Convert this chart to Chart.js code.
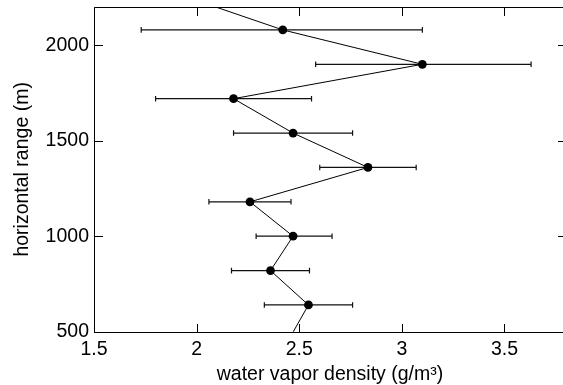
<!DOCTYPE html>
<html>
<head>
<meta charset="utf-8">
<script src="https://cdn.jsdelivr.net/npm/chart.js@4/dist/chart.umd.min.js"></script>
<style>
  html, body { margin: 0; padding: 0; background: #fff; overflow: hidden; }
  #wrap { width: 563px; height: 385px; }
</style>
</head>
<body>
<div id="wrap"><canvas id="c" width="563" height="385" style="width:563px;height:385px"></canvas></div>
<script>
// Data
const rangeM = [2260, 2080, 1900, 1720, 1540, 1360, 1180, 1000, 820, 640, 460];
const density = [1.93, 2.42, 3.10, 2.18, 2.47, 2.835, 2.26, 2.47, 2.36, 2.545, 2.45];
const densityLow = [null, 1.73, 2.58, 1.80, 2.18, 2.60, 2.06, 2.29, 2.17, 2.33, null];
const densityHigh = [null, 3.10, 3.63, 2.56, 2.76, 3.07, 2.46, 2.66, 2.55, 2.76, null];
const xTicks = [1.5, 2, 2.5, 3, 3.5];
const yTicks = [500, 1000, 1500, 2000];
const xTitle = 'water vapor density (g/m³)';
const yTitle = 'horizontal range (m)';

const FONT = "'Liberation Sans', Arial, Helvetica, sans-serif";
const PLOT_RIGHT = 566; // plot frame extends just past the right edge of the picture

const extendRight = {
  id: 'extendRight',
  afterLayout(chart) {
    try {
      const xs = chart.scales.x;
      xs.right = PLOT_RIGHT;
      xs.width = PLOT_RIGHT - xs.left;
      xs.configure();
      chart.chartArea.right = PLOT_RIGHT;
      chart.chartArea.width = PLOT_RIGHT - chart.chartArea.left;
      const ys = chart.scales.y;
      if (ys) { ys._labelItems = null; }
    } catch (e) { /* keep default layout */ }
  }
};

const errorBars = {
  id: 'errorBars',
  beforeDatasetsDraw(chart) {
    const ctx = chart.ctx, xs = chart.scales.x, ys = chart.scales.y;
    ctx.save();
    ctx.strokeStyle = '#111';
    ctx.lineWidth = 1.2;
    for (let i = 0; i < rangeM.length; i++) {
      if (densityLow[i] == null) continue;
      const y = ys.getPixelForValue(rangeM[i]);
      const x1 = xs.getPixelForValue(densityLow[i]);
      const x2 = xs.getPixelForValue(densityHigh[i]);
      ctx.beginPath();
      ctx.moveTo(x1, y); ctx.lineTo(x2, y);
      ctx.moveTo(x1, y - 2.8); ctx.lineTo(x1, y + 2.8);
      ctx.moveTo(x2, y - 2.8); ctx.lineTo(x2, y + 2.8);
      ctx.stroke();
    }
    ctx.restore();
  }
};

const frameTicks = {
  id: 'frameTicks',
  afterDraw(chart) {
    const ctx = chart.ctx, a = chart.chartArea, xs = chart.scales.x, ys = chart.scales.y;
    const L = Math.round(a.left) + 0.5, R = Math.round(a.right) + 0.5;
    const T = Math.round(a.top) + 0.5, B = Math.round(a.bottom) + 0.5;
    const len = 8.5;
    ctx.save();
    ctx.strokeStyle = '#000';
    ctx.lineWidth = 1;
    ctx.beginPath();
    ctx.rect(L, T, R - L, B - T);
    ctx.stroke();
    ctx.beginPath();
    xs.ticks.forEach(t => {
      const x = Math.round(xs.getPixelForValue(t.value)) + 0.5;
      ctx.moveTo(x, B); ctx.lineTo(x, B - len);
      ctx.moveTo(x, T); ctx.lineTo(x, T + len);
    });
    ys.ticks.forEach(t => {
      const y = Math.round(ys.getPixelForValue(t.value)) + 0.5;
      ctx.moveTo(L, y); ctx.lineTo(L + len, y);
      ctx.moveTo(R, y); ctx.lineTo(R - len, y);
    });
    ctx.stroke();
    ctx.restore();
  }
};

new Chart(document.getElementById('c'), {
  type: 'line',
  data: {
    datasets: [{
      data: rangeM.map((r, i) => ({ x: density[i], y: r })),
      borderColor: '#000',
      borderWidth: 1,
      backgroundColor: '#000',
      pointBackgroundColor: '#000',
      pointBorderWidth: 0,
      pointRadius: rangeM.map((r, i) => densityLow[i] == null ? 0 : 4.4),
      pointHoverRadius: 4.4,
      tension: 0,
      fill: false
    }]
  },
  options: {
    responsive: false,
    animation: false,
    devicePixelRatio: 1,
    layout: { autoPadding: false, padding: { top: 7, right: 0, left: 0, bottom: 0 } },
    plugins: { legend: { display: false }, tooltip: { enabled: false } },
    scales: {
      x: {
        type: 'linear',
        min: 1.5, max: 3.8,
        afterBuildTicks: s => { s.ticks = xTicks.map(v => ({ value: v })); },
        afterFit: s => { s.height = 53.3; s.paddingLeft = 0; s.paddingRight = 0; },
        grid: { display: false, drawTicks: false },
        border: { display: false },
        ticks: {
          color: '#000', padding: 6, maxRotation: 0, autoSkip: false,
          font: { family: FONT, size: 19.5 },
          callback: v => String(v)
        },
        title: {
          display: true, text: xTitle, color: '#000',
          font: { family: FONT, size: 19.5 },
          padding: { top: 0, bottom: -1 }
        }
      },
      y: {
        type: 'linear',
        min: 500, max: 2200,
        afterBuildTicks: s => { s.ticks = yTicks.map(v => ({ value: v })); },
        afterFit: s => { s.width = 94; s.paddingTop = 0; s.paddingBottom = 0; },
        grid: { display: false, drawTicks: false },
        border: { display: false },
        ticks: {
          color: '#000', padding: 5, autoSkip: false,
          font: { family: FONT, size: 19.5 },
          callback: v => String(v)
        },
        title: {
          display: true, text: yTitle, color: '#000',
          font: { family: FONT, size: 19.5 },
          padding: { top: 11, bottom: 0 }
        }
      }
    }
  },
  plugins: [extendRight, errorBars, frameTicks]
});
</script>
</body>
</html>
